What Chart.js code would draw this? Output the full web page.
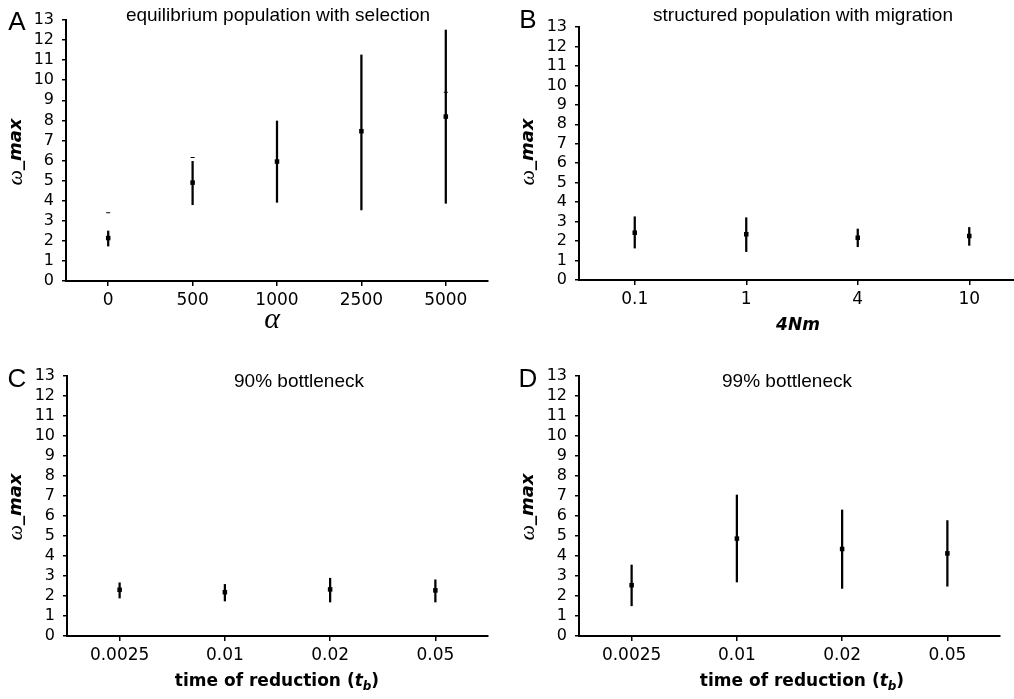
<!DOCTYPE html>
<html>
<head>
<meta charset="utf-8">
<script src="https://cdn.jsdelivr.net/npm/chart.js@4.4.1/dist/chart.umd.min.js"></script>
<style>
    html, body { margin: 0; padding: 0; background: #fff; overflow: hidden; width: 1014px; height: 699px; position: relative; }
    canvas { position: absolute; }
</style>
</head>
<body>
<canvas id="chartA" width="500" height="340" style="left:0;top:0"></canvas>
<canvas id="chartB" width="530" height="340" style="left:500px;top:0"></canvas>
<canvas id="chartC" width="500" height="359" style="left:0;top:340px"></canvas>
<canvas id="chartD" width="514" height="359" style="left:500px;top:340px"></canvas>
<script>
// Данные панелей (медиана и границы интервала)
const alphaLabels = ['0', '500', '1000', '2500', '5000'];
const alphaMid = [2.14, 4.9, 5.95, 7.46, 8.19];
const alphaLow = [1.74, 3.8, 3.92, 3.54, 3.87];
const alphaHigh = [2.49, 5.96, 7.97, 11.26, 12.5];
const alphaMarks = [3.4, 6.15, null, null, 9.4];

const migrationLabels = ['0.1', '1', '4', '10'];
const migrationMid = [2.43, 2.35, 2.17, 2.26];
const migrationLow = [1.64, 1.46, 1.71, 1.78];
const migrationHigh = [3.25, 3.2, 2.62, 2.7];

const bottleneckLabels = ['0.0025', '0.01', '0.02', '0.05'];
const b90Mid = [2.31, 2.19, 2.33, 2.28];
const b90Low = [1.9, 1.75, 1.7, 1.7];
const b90High = [2.66, 2.58, 2.89, 2.81];
const b99Mid = [2.54, 4.87, 4.35, 4.13];
const b99Low = [1.51, 2.7, 2.38, 2.49];
const b99High = [3.55, 7.05, 6.3, 5.77];

const yMin = 0;
const yMax = 13;

Chart.defaults.font.family = '"DejaVu Sans", Verdana, sans-serif';
Chart.defaults.color = '#000';

// Текст с несколькими шрифтами (подписи осей)
function drawRich(ctx, item) {
    ctx.save();
    ctx.translate(item.x, item.y);
    if (item.rotate) ctx.rotate(-Math.PI / 2);
    let total = 0;
    item.parts.forEach(p => { ctx.font = p.font; p.w = ctx.measureText(p.text).width; total += p.w; });
    let x = -total / 2;
    ctx.textAlign = 'left';
    ctx.textBaseline = 'middle';
    ctx.fillStyle = '#000';
    item.parts.forEach(p => { ctx.font = p.font; ctx.fillText(p.text, x, p.dy || 0); x += p.w; });
    ctx.restore();
}

const SANS = '"Liberation Sans", Arial, sans-serif';
const VERD = '"DejaVu Sans", Verdana, sans-serif';
const SERIF = '"Liberation Serif", "DejaVu Serif", serif';

function yTitle(x, y) {
    return { x: x, y: y, rotate: true, parts: [
        { text: 'ω', font: 'italic 22px ' + SERIF },
        { text: '_max', font: 'bold italic 18px ' + VERD }
    ] };
}

function timeTitle(x, y) {
    return { x: x, y: y, parts: [
        { text: 'time of reduction (', font: 'bold 17px ' + VERD },
        { text: 't', font: 'bold italic 17px ' + VERD },
        { text: 'b', font: 'bold italic 12px ' + VERD, dy: 5 },
        { text: ')', font: 'bold 17px ' + VERD }
    ] };
}

function simple(text, font, x, y) {
    return { x: x, y: y, parts: [{ text: text, font: font }] };
}

// Построение одной панели
function makePanel(id, labels, mid, low, high, marks, box, texts) {
    const datasets = [
        {
            type: 'line',
            data: mid,
            showLine: false,
            pointStyle: 'rect',
            pointRadius: 3.2,
            pointBackgroundColor: '#000',
            pointBorderWidth: 0,
            order: 0
        },
        {
            type: 'bar',
            data: labels.map((_, i) => [low[i], high[i]]),
            backgroundColor: '#000',
            barThickness: 1.6,
            order: 1
        }
    ];
    if (marks) {
        datasets.push({
            type: 'line',
            data: marks,
            showLine: false,
            pointStyle: 'line',
            pointRadius: 2,
            pointBorderColor: '#000',
            pointBorderWidth: 1,
            order: 0
        });
    }

    return new Chart(document.getElementById(id), {
        type: 'bar',
        data: { labels: labels, datasets: datasets },
        plugins: [{
            id: 'panelText',
            afterDraw(chart) { texts.forEach(t => drawRich(chart.ctx, t)); }
        }],
        options: {
            responsive: false,
            animation: false,
            events: [],
            layout: { padding: { left: 0, top: box.top, right: box.right, bottom: 0 } },
            plugins: { legend: { display: false }, tooltip: { enabled: false } },
            scales: {
                x: {
                    offset: true,
                    grid: { offset: false, drawOnChartArea: false, drawTicks: true, tickLength: 5, color: '#000', lineWidth: 1.5 },
                    border: { color: '#000', width: 2 },
                    ticks: { font: { size: 17 }, color: '#000', padding: 4, maxRotation: 0 },
                    afterFit(scale) { scale.height = box.xh; }
                },
                y: {
                    min: yMin,
                    max: yMax,
                    grid: { drawOnChartArea: false, drawTicks: true, tickLength: 4, color: '#000', lineWidth: 1.5 },
                    border: { color: '#000', width: 2 },
                    ticks: { stepSize: 1, autoSkip: false, font: { size: 16 }, color: '#000', padding: 8 },
                    afterFit(scale) { scale.width = box.yw; }
                }
            }
        }
    });
}

makePanel('chartA', alphaLabels, alphaMid, alphaLow, alphaHigh, alphaMarks,
    { top: 20, right: 12, xh: 59, yw: 66 },
    [
        simple('A', '26px ' + SANS, 17, 23),
        simple('equilibrium population with selection', '19px ' + SANS, 278, 16),
        yTitle(16, 152),
        simple('α', 'italic 30px ' + SERIF, 272, 320)
    ]);

makePanel('chartB', migrationLabels, migrationMid, migrationLow, migrationHigh, null,
    { top: 27, right: 5, xh: 60, yw: 79 },
    [
        simple('B', '26px ' + SANS, 28, 21),
        simple('structured population with migration', '19px ' + SANS, 303, 16),
        yTitle(28, 152),
        simple('4Nm', 'bold italic 17px ' + VERD, 298, 326)
    ]);

makePanel('chartC', bottleneckLabels, b90Mid, b90Low, b90High, null,
    { top: 36, right: 12, xh: 63, yw: 67 },
    [
        simple('C', '26px ' + SANS, 17, 40),
        simple('90% bottleneck', '19px ' + SANS, 299, 42),
        yTitle(16, 167),
        timeTitle(277, 342)
    ]);

makePanel('chartD', bottleneckLabels, b99Mid, b99Low, b99High, null,
    { top: 36, right: 14, xh: 63, yw: 79 },
    [
        simple('D', '26px ' + SANS, 28, 40),
        simple('99% bottleneck', '19px ' + SANS, 287, 42),
        yTitle(28, 167),
        timeTitle(302, 342)
    ]);
</script>
</body>
</html>
